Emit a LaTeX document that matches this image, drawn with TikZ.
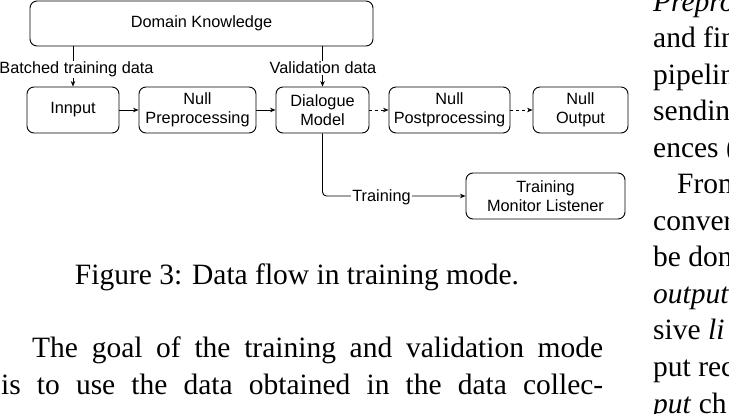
\documentclass[tikz,border=0pt]{standalone}
\usepackage{fontspec}
\setmainfont{Liberation Serif}
\newfontfamily\diagfont{Liberation Sans}
\usetikzlibrary{arrows.meta}
\begin{document}
\begin{tikzpicture}[x=1pt,y=-1pt,
  box/.style={draw, rounded corners=7pt, line width=0.9pt, align=center,
    font=\diagfont\fontsize{16.3}{18.7}\selectfont, inner sep=0pt},
  lbl/.style={font=\diagfont\fontsize{16.3}{18.7}\selectfont, fill=white, inner sep=1pt, anchor=base},
  arr/.style={line width=0.9pt, -{Stealth[length=5.5pt,width=4.5pt]}},
  darr/.style={arr, dash pattern=on 3pt off 3pt},
  para/.style={font=\fontsize{29.5}{36.5}\selectfont, inner sep=0pt, anchor=base west},
]
\path[use as bounding box] (0,0) rectangle (729,414);
\clip (0,0) rectangle (729,414);

% diagram boxes
\node[box, minimum width=343pt, minimum height=45pt] (dk) at (201.5,23.5) {Domain Knowledge};
\node[box, minimum width=92pt, minimum height=46pt] (inp) at (73,110) {Innput};
\node[box, minimum width=117pt, minimum height=46pt] (pre) at (197.5,110) {Null\\Preprocessing};
\node[box, minimum width=93pt, minimum height=46pt] (dm) at (322.5,110) {Dialogue\\Model};
\node[box, minimum width=121pt, minimum height=46pt] (post) at (449.5,110) {Null\\Postprocessing};
\node[box, minimum width=95pt, minimum height=46pt] (out) at (580.5,110) {Null\\Output};
\node[box, minimum width=159pt, minimum height=46pt] (tml) at (545.5,196) {Training\\Monitor Listener};

% connectors
\draw[arr] (inp.north |- dk.south) -- (inp.north);
\draw[arr] (dm.north |- dk.south) -- (dm.north);
\draw[arr] (inp.east) -- (pre.west);
\draw[arr] (pre.east) -- (dm.west);
\draw[darr] (dm.east) -- (post.west);
\draw[darr] (post.east) -- (out.west);
\draw[arr, rounded corners=4pt] (dm.south) |- (tml.west);

% connector labels
\node[lbl] (bl) at (76.5,74) {Batched training data};
\node[lbl] (vl) at (323,74) {Validation data};
\node[lbl] (tl) at (381.5,201.5) {Training};

% caption and body text
\node[para, anchor=base] (cap) at (297,285) {Figure 3: Data flow in training mode.};
\node[para] (p1) at (32,358) {\makebox[571pt][s]{The goal of the training and validation mode}};
\node[para] (p2) at (1,395) {\makebox[602pt][s]{is to use the data obtained in the data collec-}};

% right column (cut at the edge)
\node[para] (r1) at (653,11.5) {\textit{Prepro}};
\node[para] (r2) at (653,48) {and fin};
\node[para] (r3) at (653,84.5) {pipelin};
\node[para] (r4) at (653,121) {sendin};
\node[para] (r5) at (653,157.5) {ences (};
\node[para] (r6) at (677,194) {From};
\node[para] (r7) at (653,230.5) {conver};
\node[para] (r8) at (653,267) {be don};
\node[para] (r9) at (653,303.5) {\textit{output}};
\node[para] (r10) at (653,340) {sive \textit{li}};
\node[para] (r11) at (653,376.5) {put rec};
\node[para] (r12) at (653,413.5) {\textit{put} ch};
\end{tikzpicture}
\end{document}
